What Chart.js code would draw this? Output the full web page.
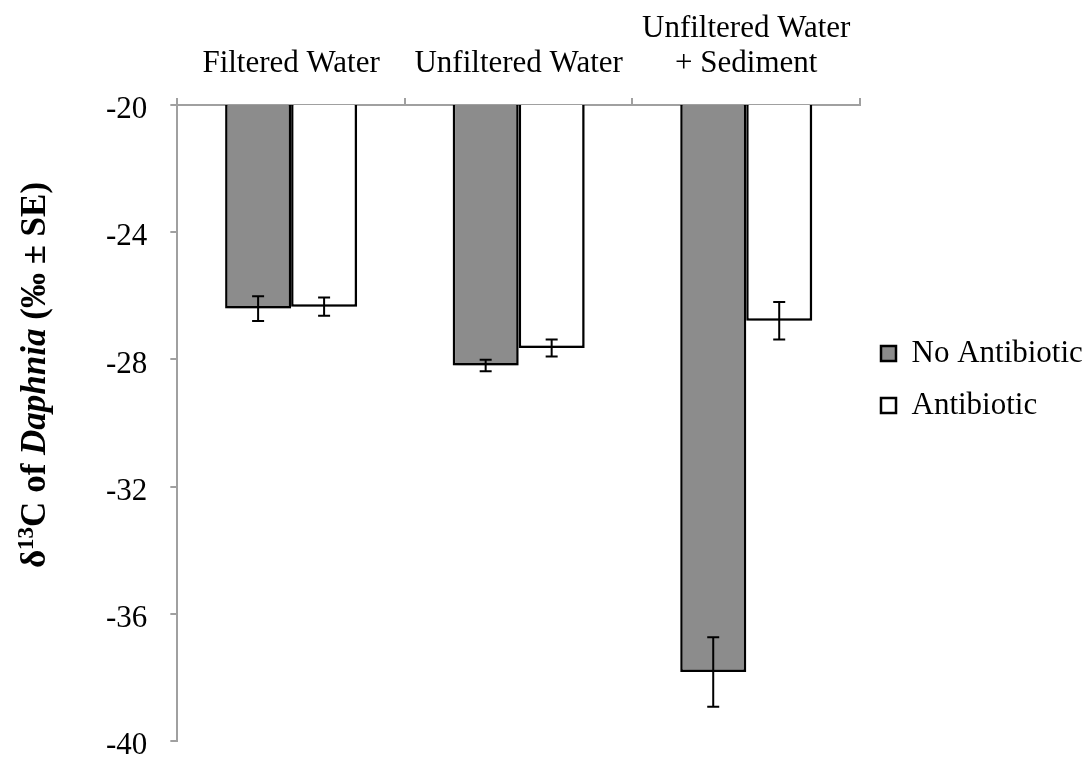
<!DOCTYPE html>
<html>
<head>
<meta charset="utf-8">
<script src="https://cdn.jsdelivr.net/npm/chart.js@4/dist/chart.umd.min.js"></script>
<style>
  html, body { margin: 0; padding: 0; background: #ffffff; }
  #wrap { width: 1091px; height: 758px; position: relative; }
</style>
</head>
<body>
<div id="wrap"><canvas id="c"></canvas></div>
<script>
const categories = ["Filtered Water", "Unfiltered Water", ["Unfiltered Water", "+ Sediment"]];
const seriesNames = ["No Antibiotic", "Antibiotic"];
const noAntibiotic = [-26.40, -28.19, -37.83];
const noAntibioticSE = [0.39, 0.18, 1.09];
const antibiotic = [-26.34, -27.64, -26.78];
const antibioticSE = [0.29, 0.27, 0.59];
const yMin = -40, yMax = -20, yStep = 4;

const FONT = "'Liberation Serif', 'Times New Roman', serif";

const shadowPlugin = {
  id: 'barShadow',
  beforeDatasetsDraw(chart) {
    const ctx = chart.ctx;
    ctx.save();
    ctx.shadowColor = 'rgba(0,0,0,0.30)';
    ctx.shadowBlur = 5;
    ctx.shadowOffsetX = 2;
    ctx.shadowOffsetY = 3;
  },
  afterDatasetsDraw(chart) {
    chart.ctx.restore();
  }
};

const errorBarPlugin = {
  id: 'errorBars',
  afterDatasetsDraw(chart) {
    const ctx = chart.ctx;
    const y = chart.scales.y;
    const errs = [noAntibioticSE, antibioticSE];
    ctx.save();
    ctx.strokeStyle = '#000000';
    ctx.lineWidth = 2;
    chart.data.datasets.forEach((ds, di) => {
      const meta = chart.getDatasetMeta(di);
      meta.data.forEach((bar, i) => {
        const v = ds.data[i];
        const e = errs[di][i];
        const yTop = y.getPixelForValue(v + e);
        const yBot = y.getPixelForValue(v - e);
        const x = bar.x;
        const cap = 6;
        ctx.beginPath();
        ctx.moveTo(x, yTop); ctx.lineTo(x, yBot);
        ctx.moveTo(x - cap, yTop); ctx.lineTo(x + cap, yTop);
        ctx.moveTo(x - cap, yBot); ctx.lineTo(x + cap, yBot);
        ctx.stroke();
      });
    });
    ctx.restore();
  }
};

const yTitlePlugin = {
  id: 'yTitle',
  afterDraw(chart) {
    const ctx = chart.ctx;
    const size = 35;
    const segs = [
      { t: 'δ', f: `bold ${size}px ${FONT}`, dy: 0 },
      { t: '13', f: `bold ${Math.round(size * 0.65)}px ${FONT}`, dy: -size * 0.33 },
      { t: 'C of ', f: `bold ${size}px ${FONT}`, dy: 0 },
      { t: 'Daphnia', f: `italic bold ${size}px ${FONT}`, dy: 0 },
      { t: ' (‰ ± SE)', f: `bold ${size}px ${FONT}`, dy: 0 }
    ];
    ctx.save();
    let total = 0;
    segs.forEach(s => { ctx.font = s.f; s.w = ctx.measureText(s.t).width; total += s.w; });
    const cy = 375;
    ctx.translate(45, cy);
    ctx.rotate(-Math.PI / 2);
    ctx.fillStyle = '#000000';
    ctx.textBaseline = 'alphabetic';
    ctx.textAlign = 'left';
    let x = -total / 2;
    segs.forEach(s => { ctx.font = s.f; ctx.fillText(s.t, x, s.dy); x += s.w; });
    ctx.restore();
  }
};

const yTickValues = [];
for (let v = yMax; v >= yMin; v -= yStep) yTickValues.push(v);

new Chart(document.getElementById('c'), {
  type: 'bar',
  data: {
    labels: categories,
    datasets: [
      {
        label: seriesNames[0],
        data: noAntibiotic,
        backgroundColor: '#8c8c8c',
        borderColor: '#000000',
        borderWidth: 2.5,
        categoryPercentage: 0.58,
        barPercentage: 1.0
      },
      {
        label: seriesNames[1],
        data: antibiotic,
        backgroundColor: '#ffffff',
        borderColor: '#000000',
        borderWidth: 2.5,
        categoryPercentage: 0.58,
        barPercentage: 1.0
      }
    ]
  },
  options: {
    responsive: true,
    maintainAspectRatio: false,
    animation: false,
    layout: { padding: { left: 83, top: -6, bottom: 17, right: 0 } },
    plugins: {
      tooltip: { enabled: false },
      legend: {
        position: 'right',
        maxWidth: 231,
        title: { display: true, text: ' ', font: { size: 10, lineHeight: 1.2 }, padding: 6 },
        labels: {
          boxWidth: 15,
          boxHeight: 15,
          padding: 21,
          color: '#000000',
          font: { family: FONT, size: 31 }
        }
      }
    },
    scales: {
      x: {
        position: 'top',
        offset: true,
        grid: { offset: true, drawOnChartArea: false, drawTicks: true, tickLength: 7, color: '#a0a0a0', lineWidth: 2 },
        border: { display: true, color: '#a0a0a0', width: 2 },
        ticks: { color: '#000000', padding: 17, maxRotation: 0, autoSkip: false, font: { family: FONT, size: 31, lineHeight: 1.13 } }
      },
      y: {
        min: yMin,
        max: yMax,
        afterBuildTicks(scale) { scale.ticks = yTickValues.map(v => ({ value: v })); },
        afterFit(scale) { scale.paddingBottom = 0; },
        grid: { drawOnChartArea: false, drawTicks: true, tickLength: 7, color: '#a0a0a0', lineWidth: 2 },
        border: { display: true, color: '#a0a0a0', width: 2 },
        ticks: { color: '#000000', padding: 23, labelOffset: 5, font: { family: FONT, size: 31 } }
      }
    }
  },
  plugins: [shadowPlugin, errorBarPlugin, yTitlePlugin]
});
</script>
</body>
</html>
